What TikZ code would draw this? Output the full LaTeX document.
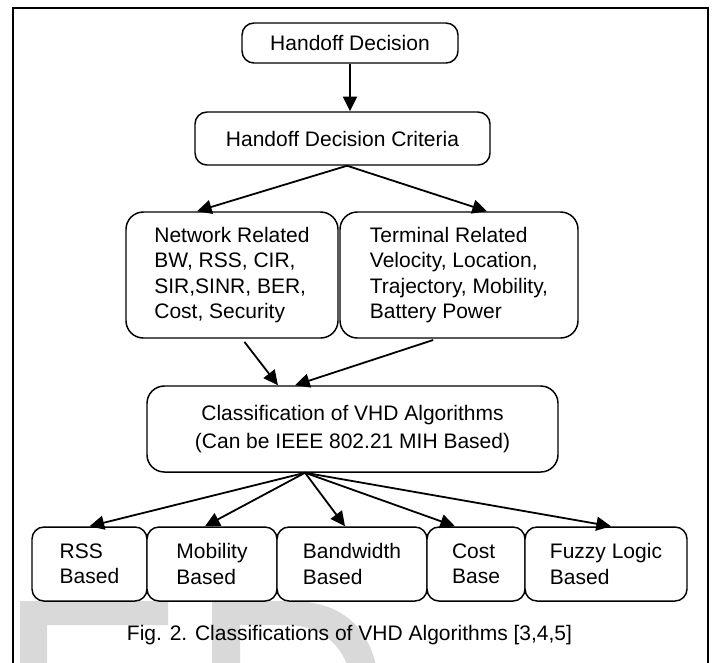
\documentclass[tikz,border=0pt]{standalone}
\usepackage{fontspec}
\setmainfont{Liberation Sans}
\usepackage{tikz}
\usetikzlibrary{arrows.meta,positioning}

\definecolor{wmgrey}{RGB}{217,217,217}
\tikzset{
  blk/.style={draw, line width=1.1pt, rounded corners=9pt, fill=white, align=left, inner sep=0pt,
    font=\fontsize{15.75}{19}\selectfont},
  bigblk/.style={blk, rounded corners=13pt},
  arr/.style={line width=1.35pt, -{Triangle[length=11pt,width=10.5pt]}},
}

\begin{document}
\begin{tikzpicture}[x=0.75pt,y=0.75pt,yscale=-1]
  \useasboundingbox (0,0) rectangle (712,662);

  %Shape: watermark (partly shown)
  \fill [wmgrey] (20,601) -- (168,601) -- (168,625) -- (47,625) -- (47,690) -- (20,690) -- cycle ;
  \fill [wmgrey, even odd rule] (212,601) -- (290,601) .. controls (345,601) and (375,630) .. (380,690) -- (212,690) -- cycle
    (240,625) -- (285,625) .. controls (325,625) and (350,650) .. (352,690) -- (240,690) -- cycle ;
  %Shape: outer frame
  \draw [line width=1.5pt] (13,8) rectangle (708,700) ;

  % Decision boxes
  \node [blk, minimum width=162pt, minimum height=30pt] (hd) at (350,43) {Handoff Decision};
  \node [blk, minimum width=221.25pt, minimum height=39.75pt] (hdc) at (342.5,138.5) {Handoff Decision Criteria};
  \node [bigblk, minimum width=159pt, minimum height=94.5pt] (net) at (232,275)
    {Network Related\\BW, RSS, CIR,\\SIR,SINR, BER,\\Cost, Security};
  \node [bigblk, minimum width=178.5pt, minimum height=94.5pt] (term) at (459,275)
    {Terminal Related\\Velocity, Location,\\Trajectory, Mobility,\\Battery Power};
  \node [bigblk, align=center, minimum width=308.25pt, minimum height=64.5pt,
    font=\fontsize{15.75}{21}\selectfont] (cls) at (352.5,429)
    {Classification of VHD Algorithms\\(Can be IEEE 802.21 MIH Based)};

  % Algorithm classes
  \node [blk, minimum width=86.25pt, minimum height=55.5pt] (rss) at (89.5,564) {RSS\\Based};
  \node [blk, minimum width=97.5pt, minimum height=55.5pt] (mob) at (212,564) {Mobility\\Based};
  \node [blk, minimum width=112.5pt, minimum height=55.5pt] (bw) at (352,564) {Bandwidth\\Based};
  \node [blk, minimum width=73.5pt, minimum height=55.5pt] (cost) at (476,564) {Cost\\Base};
  \node [blk, minimum width=121.5pt, minimum height=55.5pt] (fuzzy) at (606,564) {Fuzzy Logic\\Based};

  % Text Node
  \node [anchor=base, inner sep=0pt, font=\fontsize{15.75}{18.5}\selectfont] (cap) at (349.5,640)
    {Fig. 2. Classifications of VHD Algorithms [3,4,5]};

  % Connectors
  \draw [arr] (hd.south) -- (hd.south |- hdc.north);
  \coordinate (hdcfoot) at ([xshift=3.4pt]hdc.south);
  \draw [arr] (hdcfoot) -- ([xshift=-26.25pt]net.north);
  \draw [arr] (hdcfoot) -- ([xshift=21pt]term.north);
  \draw [arr, shorten <=3pt] ([xshift=7.5pt]net.south) -- ([xshift=-55.9pt]cls.north);
  \draw [arr, shorten <=3pt] ([xshift=-16.5pt]term.south) -- ([xshift=-43.1pt]cls.north);
  \coordinate (clsfoot) at ([xshift=-35.6pt]cls.south);
  \foreach \t/\s in {rss/0pt, mob/-5.25pt, bw/-5.25pt, cost/-15.75pt, fuzzy/3.75pt}
    \draw [arr] (clsfoot) -- ([xshift=\s]\t.north);

\end{tikzpicture}
\end{document}
